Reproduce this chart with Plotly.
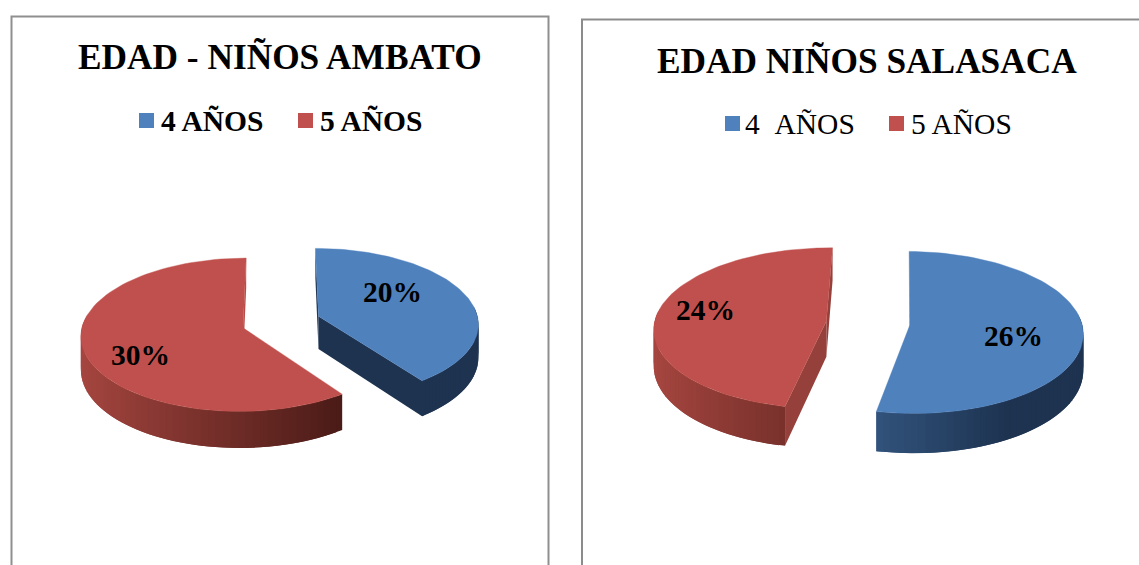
import numpy as np
import plotly.graph_objects as go

CATEGORIES = ["4 AÑOS", "5 AÑOS"]
AMBATO_VALUES = [20, 30]
# slices, printed rounded as 26% and 24%
SALASACA_VALUES = [26.45, 23.55]

BLUE = "#4f81bd"
RED = "#c0504d"
FONT = "Liberation Serif"


def mix(c1, c2, t):
    t = min(max(t, 0), 1)
    return "rgb(%d,%d,%d)" % tuple(a + (b - a) * t for a, b in zip(c1, c2))


def blue_wall(u):
    return mix((0x33, 0x55, 0x7f), (0x1e, 0x33, 0x50), u / 0.75)


def red_wall(u):
    return mix((0xa6, 0x46, 0x40), (0x4a, 0x1b, 0x17), (u + 1.2) / 1.56)


def poly(fig, xs, ys, color, width=0.0):
    fig.add_trace(go.Scatter(x=xs, y=ys, mode="lines", fill="toself", fillcolor=color,
                             line=dict(color=color, width=width), hoverinfo="skip", showlegend=False))


def add_pie(fig, values, cx, cy, rx, ry, explode, depth, side_color_red, rotation=0.0):
    """Pie in perspective: the angles come from the values, the circle is then projected."""
    k = 0.09
    total = sum(values)
    start = np.radians(rotation)

    def project(u, v, drop=0.0):
        s = 1 / (1 - k * v)
        return cx + rx * u * s, cy + ry * v * s + drop * s

    for value, wall, top, cut in zip(values, (blue_wall, red_wall), (BLUE, RED),
                                     ("#1e3350", side_color_red)):
        sweep = value / total * 2 * np.pi
        mid = start + sweep / 2
        ou, ov = explode * np.sin(mid), -explode * np.cos(mid)
        angles = np.linspace(start, start + sweep, 90)
        us, vs = np.sin(angles) + ou, -np.cos(angles) + ov

        ax, ay = project(ou, ov)
        axd, ayd = project(ou, ov, depth)
        mx, my = project(np.sin(mid) * 0.5 + ou, -np.cos(mid) * 0.5 + ov)

        # cut faces, only those the viewer can see
        for i in (0, -1):
            ex, ey = project(us[i], vs[i])
            exd, eyd = project(us[i], vs[i], depth)
            inside = (ex - ax) * (my - ay) - (ey - ay) * (mx - ax)
            if inside * (ex - ax) <= 0:
                poly(fig, [ax, ex, exd, axd, ax], [ay, ey, eyd, ayd, ay], cut)

        # outer wall in overlapping strips for the shading
        for i in range(len(angles) - 1):
            if -np.cos(angles[i]) < -0.12 and -np.cos(angles[i + 1]) < -0.12:
                continue
            j = min(i + 2, len(angles) - 1)
            x1, y1 = project(us[i], vs[i])
            x2, y2 = project(us[j], vs[j])
            x3, y3 = project(us[j], vs[j], depth)
            x4, y4 = project(us[i], vs[i], depth)
            poly(fig, [x1, x2, x3, x4, x1], [y1, y2, y3, y4, y1], wall((us[i] + us[i + 1]) / 2))

        fx, fy = project(us, vs)
        poly(fig, [ax, *fx, ax], [ay, *fy, ay], top, width=0.4)
        start += sweep


def add_text(fig, text, x, y, size, bold=True, anchor="center"):
    fig.add_annotation(x=x, y=y, text="<b>%s</b>" % text if bold else text, showarrow=False,
                       xanchor=anchor, yanchor="middle", xref="x", yref="y",
                       font=dict(family=FONT, size=size, color="#000000"))


def add_legend_square(fig, x, y, color):
    fig.add_trace(go.Scatter(x=[x], y=[y], mode="markers", showlegend=False, hoverinfo="skip",
                             marker=dict(symbol="square", size=15, color=color, line_width=0)))


fig = go.Figure()

# chart frames run off the bottom and right of the page
fig.add_shape(type="rect", x0=11.5, x1=548.5, y0=16.5, y1=600,
              line=dict(color="#8f8f8f", width=2), fillcolor="white", layer="below")
fig.add_shape(type="rect", x0=582, x1=1170, y0=19.5, y1=600,
              line=dict(color="#8c8c8c", width=2), fillcolor="white", layer="below")

add_pie(fig, AMBATO_VALUES, 281, 322, 160, 75, 0.248, 33, "#b84c48")
add_pie(fig, SALASACA_VALUES, 868, 323, 172, 80, 0.244, 36, "#96403b", rotation=1.0)

add_text(fig, "EDAD - NIÑOS AMBATO", 279.5, 57, 35.3)
add_text(fig, "EDAD NIÑOS SALASACA", 866.5, 61, 35.3)

add_legend_square(fig, 146.5, 120.5, BLUE)
add_legend_square(fig, 305.5, 120.5, RED)
add_text(fig, CATEGORIES[0], 159, 121, 29.5, anchor="left")
add_text(fig, CATEGORIES[1], 318, 121, 29.5, anchor="left")

add_legend_square(fig, 732.5, 123.5, BLUE)
add_legend_square(fig, 896.5, 123.5, RED)
add_text(fig, CATEGORIES[0].replace(" ", "&nbsp;&nbsp;"), 743, 124, 29.5, bold=False, anchor="left")
add_text(fig, CATEGORIES[1], 909, 124, 29.5, bold=False, anchor="left")

for values, places in ((AMBATO_VALUES, [(392, 292), (140, 355)]),
                       (SALASACA_VALUES, [(1013, 336), (705, 310)])):
    for value, (x, y) in zip(values, places):
        add_text(fig, "%d%%" % round(value), x, y, 29.5)

fig.update_layout(
    width=1139,
    height=565,
    margin=dict(l=0, r=0, t=0, b=0),
    paper_bgcolor="white",
    plot_bgcolor="white",
    xaxis=dict(range=[0, 1139], visible=False, fixedrange=True),
    yaxis=dict(range=[565, 0], visible=False, fixedrange=True),
)

fig.write_html("out.html", config={"displayModeBar": False},
               post_script="document.body.style.margin='0';document.body.style.overflow='hidden';")
